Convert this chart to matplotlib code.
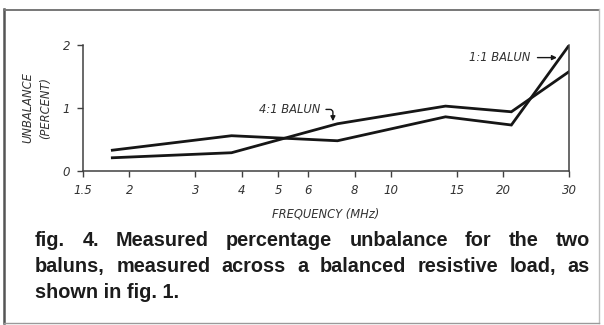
import matplotlib
matplotlib.use("Agg")
import matplotlib.pyplot as plt
from matplotlib.lines import Line2D
from matplotlib.transforms import IdentityTransform
from matplotlib.ticker import FixedLocator, FixedFormatter, NullLocator

# measured unbalance (percent) vs frequency (MHz)
FREQ_MHZ = [1.8, 3.75, 7.2, 14, 21, 30]
BALUN_1_1 = [0.33, 0.56, 0.48, 0.86, 0.73, 2.0]
BALUN_4_1 = [0.21, 0.29, 0.75, 1.03, 0.94, 1.58]

X_TICKS = [1.5, 2, 3, 4, 5, 6, 8, 10, 15, 20, 30]
X_TICK_LABELS = ["1.5", "2", "3", "4", "5", "6", "8", "10", "15", "20", "30"]
Y_TICKS = [0, 1, 2]

CAPTION = [
    "fig. 4. Measured percentage unbalance for the two",
    "baluns, measured across a balanced resistive load, as",
    "shown in fig. 1.",
]

INK = "#161616"
LABEL = "#333333"
AXIS = "#404040"
CAP_FONT = "Liberation Sans"
AX_FONT = "DejaVu Sans"

W, H = 604, 325
fig = plt.figure(figsize=(W / 100, H / 100), dpi=100)
fig.patch.set_facecolor("white")

ax = fig.add_axes([82.7 / W, (H - 171) / H, 486.6 / W, 126 / H])
ax.set_facecolor("none")

ax.plot(FREQ_MHZ, BALUN_1_1, color=INK, lw=2.0, solid_joinstyle="miter")
ax.plot(FREQ_MHZ, BALUN_4_1, color=INK, lw=2.0, solid_joinstyle="miter")

ax.set_xscale("log")
ax.set_xlim(1.5, 30)
ax.set_ylim(0, 2)
ax.xaxis.set_major_locator(FixedLocator(X_TICKS))
ax.xaxis.set_major_formatter(FixedFormatter(X_TICK_LABELS))
ax.xaxis.set_minor_locator(NullLocator())
ax.set_yticks(Y_TICKS)
ax.set_yticklabels([str(v) for v in Y_TICKS])

for side in ("left", "bottom", "right"):
    ax.spines[side].set_color(AXIS)
    ax.spines[side].set_linewidth(1.1)
ax.spines["top"].set_visible(False)

ax.tick_params(axis="both", direction="out", length=4, width=1.0,
               color=AXIS, labelcolor=LABEL, pad=5)
for lbl in ax.get_xticklabels() + ax.get_yticklabels():
    lbl.set_fontfamily(AX_FONT)
    lbl.set_fontstyle("italic")
    lbl.set_fontsize(8.5)

text_kw = dict(family=AX_FONT, style="italic", size=8.3, color=LABEL)
ax.set_xlabel("FREQUENCY (MHz)", labelpad=8, **text_kw)
fig.text(37 / W, (H - 108) / H, "UNBALANCE\n(PERCENT)", rotation=90,
         ha="center", va="center", multialignment="center", linespacing=1.45,
         **text_kw)

# curve labels with pointer arrows
ax.annotate("4:1 BALUN", xy=(7.0, 0.79), xytext=(-9, 8.5),
            textcoords="offset points", ha="right", va="center", **text_kw,
            arrowprops=dict(arrowstyle="-|>", color=INK, lw=1.0,
                            mutation_scale=7, relpos=(1, 0.5), shrinkA=2, shrinkB=0,
                            connectionstyle="angle,angleA=0,angleB=90,rad=3"))
ax.annotate("1:1 BALUN", xy=(27.8, 1.80), xytext=(-19, 0),
            textcoords="offset points", ha="right", va="center", **text_kw,
            arrowprops=dict(arrowstyle="-|>", color=INK, lw=1.0,
                            mutation_scale=7, shrinkA=3, shrinkB=0))

# caption, justified between left and right margins
renderer = fig.canvas.get_renderer()
cap_kw = dict(family=CAP_FONT, weight="bold", size=14.3, color="#1c1c1c",
              va="baseline", ha="left", transform=IdentityTransform())
left_px, right_px = 35, 590
baselines = [H - 246, H - 272, H - 298]
for i, (line, base) in enumerate(zip(CAPTION, baselines)):
    if i == len(CAPTION) - 1:
        fig.text(left_px, base, line, **cap_kw)
        continue
    words = [fig.text(0, base, w, **cap_kw) for w in line.split()]
    widths = [t.get_window_extent(renderer).width for t in words]
    gap = (right_px - left_px - sum(widths)) / (len(words) - 1)
    x = left_px
    for t, wdt in zip(words, widths):
        t.set_x(x)
        x += wdt + gap

# outer frame around figure and caption
frame = [
    ((4, 4), (H - 9, H - 323), "#555555", 1.8),
    ((4, 599), (H - 9.5, H - 9.5), "#777777", 1.4),
    ((598.5, 598.5), (H - 9, H - 323), "#bdbdbd", 1.0),
    ((4, 599), (H - 322.5, H - 322.5), "#9a9a9a", 1.0),
]
for xs, ys, c, lw in frame:
    fig.add_artist(Line2D(xs, ys, color=c, lw=lw, transform=IdentityTransform()))

fig.savefig("out.png", dpi=100, facecolor="white")
